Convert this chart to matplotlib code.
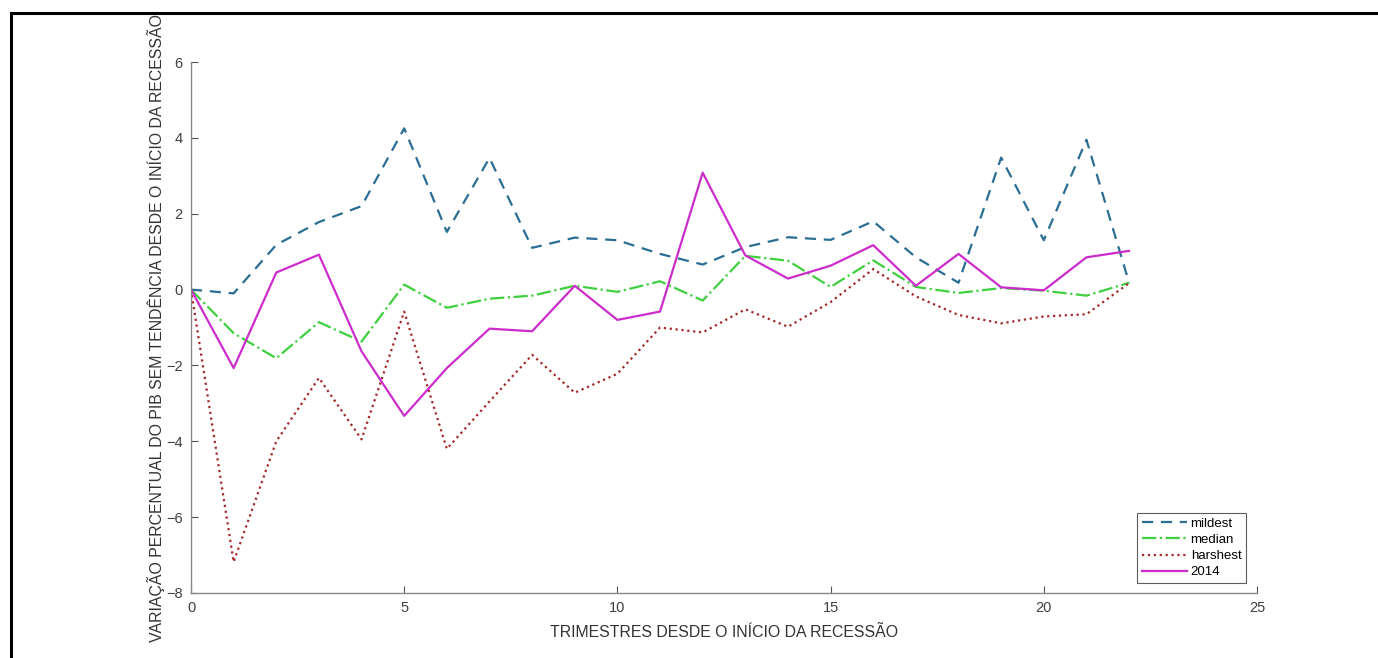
import matplotlib
matplotlib.use('Agg')
import matplotlib.pyplot as plt
from matplotlib.lines import Line2D

plt.rcParams['font.family'] = ['Liberation Sans', 'DejaVu Sans']

quarters = list(range(23))

mildest = [0, -0.1, 1.18, 1.78, 2.2, 4.25, 1.52, 3.47, 1.1, 1.37, 1.3,
           0.94, 0.66, 1.12, 1.38, 1.31, 1.8, 0.85, 0.18, 3.48, 1.3, 3.95, 0.18]
median = [0, -1.15, -1.81, -0.86, -1.37, 0.13, -0.48, -0.24, -0.16, 0.1, -0.06,
          0.22, -0.29, 0.89, 0.76, 0.07, 0.77, 0.07, -0.09, 0.04, -0.03, -0.16, 0.18]
harshest = [0, -7.18, -4.0, -2.33, -3.95, -0.58, -4.2, -2.95, -1.72, -2.72, -2.22,
            -1.0, -1.13, -0.52, -0.98, -0.33, 0.54, -0.18, -0.67, -0.89, -0.71, -0.65, 0.17]
y2014 = [0, -2.07, 0.45, 0.92, -1.63, -3.33, -2.07, -1.03, -1.1, 0.1, -0.8,
         -0.58, 3.08, 0.9, 0.29, 0.63, 1.17, 0.1, 0.94, 0.06, -0.02, 0.85, 1.02]

fig = plt.figure(figsize=(13.78, 6.58), dpi=100)
ax = fig.add_axes([191 / 1378, 1 - 593 / 658, (1257 - 191) / 1378, (593 - 62) / 658])

ax.plot(quarters, mildest, color='#2b6e93', lw=1.6, dashes=(5, 3.5), label='mildest')
ax.plot(quarters, median, color='#3fcf3f', lw=1.6, linestyle='-.', label='median')
ax.plot(quarters, harshest, color='#a3282a', lw=1.6, linestyle=':', label='harshest')
ax.plot(quarters, y2014, color='#cc2ccc', lw=1.6, label='2014')

ax.set_xlim(0, 25)
ax.set_ylim(-8, 6)
ax.set_xticks([0, 5, 10, 15, 20, 25])
ax.set_yticks([-8, -6, -4, -2, 0, 2, 4, 6])

for s in ['top', 'right']:
    ax.spines[s].set_visible(False)
for s in ['left', 'bottom']:
    ax.spines[s].set_color('#888888')
    ax.spines[s].set_linewidth(1.0)
ax.tick_params(direction='in', length=5, color='#555555', labelcolor='#404040',
               labelsize=10.5, pad=6)

ax.set_xlabel('TRIMESTRES DESDE O INÍCIO DA RECESSÃO', fontsize=11.4, color='#333333', labelpad=7)
ax.set_ylabel('VARIAÇÃO PERCENTUAL DO PIB SEM TENDÊNCIA DESDE O INÍCIO DA RECESSÃO',
              fontsize=11.4, color='#333333', labelpad=1)

leg = ax.legend(loc='lower right', bbox_to_anchor=((1246 - 191) / (1257 - 191), (593 - 583) / 531),
                fontsize=9.5, frameon=True, fancybox=False, handlelength=3.4,
                borderpad=0.35, labelspacing=0.3, handletextpad=0.3, borderaxespad=0)
leg.get_frame().set_edgecolor('#333333')
leg.get_frame().set_linewidth(0.8)

fig.add_artist(Line2D([11 / 1378, 11 / 1378], [0, 1 - 13 / 658], color='black', lw=2.2,
                      transform=fig.transFigure))
fig.add_artist(Line2D([11 / 1378, 1], [1 - 13 / 658, 1 - 13 / 658], color='black', lw=2.2,
                      transform=fig.transFigure))

fig.savefig('out.png', dpi=100)
